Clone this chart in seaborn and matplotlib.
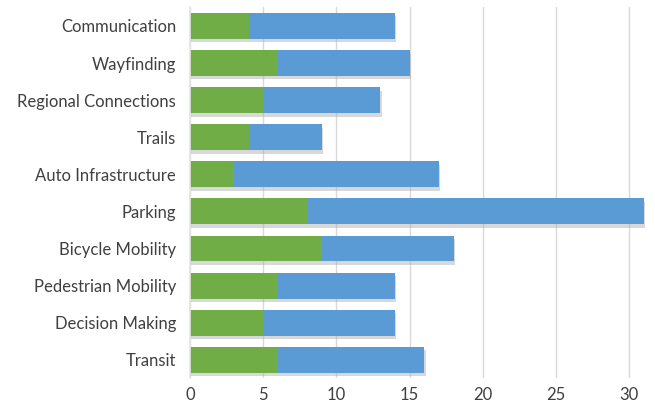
import pandas as pd
import seaborn as sns
import matplotlib.pyplot as plt
from matplotlib import patheffects as pe

categories = ['Communication', 'Wayfinding', 'Regional Connections', 'Trails',
              'Auto Infrastructure', 'Parking', 'Bicycle Mobility',
              'Pedestrian Mobility', 'Decision Making', 'Transit']
green_vals = [4, 6, 5, 4, 3, 8, 9, 6, 5, 6]
blue_vals = [10, 9, 8, 5, 14, 23, 9, 8, 9, 10]

df = pd.DataFrame({'category': categories, 'green': green_vals, 'blue': blue_vals})
df['total'] = df['green'] + df['blue']

sns.set_theme(style='white')
plt.rcParams['font.family'] = ['Lato', 'DejaVu Sans']

fig, ax = plt.subplots(figsize=(6.55, 4.09), dpi=100)
fig.subplots_adjust(left=0.29, right=0.992, bottom=0.075, top=0.982)

shadow = [pe.SimplePatchShadow(offset=(1, -2.5), shadow_rgbFace='#aaaaaa', alpha=0.45), pe.Normal()]

sns.barplot(df, x='total', y='category', color='#5b9bd5', width=0.7,
            saturation=1, ax=ax, orient='h')
sns.barplot(df, x='green', y='category', color='#70ad47', width=0.7,
            saturation=1, ax=ax, orient='h')
n = len(categories)
for i, p in enumerate(ax.patches):
    p.set_linewidth(0)
    if i < n:
        p.set_path_effects(shadow)

ax.set_xlim(0, 31.4)
ax.set_xticks(range(0, 31, 5))
ax.xaxis.grid(True, color='#d9d9d9', linewidth=1)
ax.set_axisbelow(True)
for s in ['top', 'right', 'bottom']:
    ax.spines[s].set_visible(False)
ax.spines['left'].set_color('#e4e4e4')
ax.set_xlabel('')
ax.set_ylabel('')
ax.tick_params(axis='both', labelsize=12, colors='#404040', length=0)
ax.tick_params(axis='x', pad=6)
ax.tick_params(axis='y', pad=10)

fig.savefig('out.png', dpi=100)
